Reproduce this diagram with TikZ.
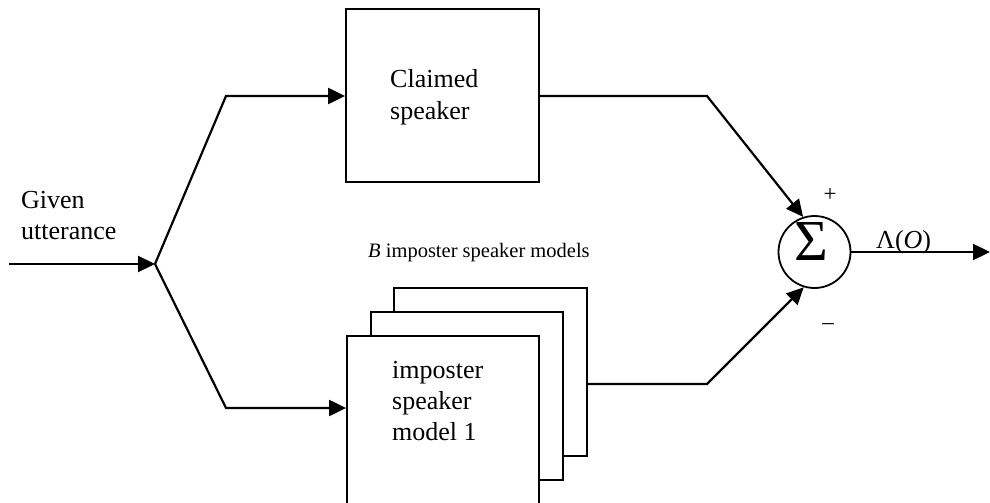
\documentclass[tikz,border=0pt]{standalone}
\usepackage{fontspec}
\setmainfont{Liberation Serif}
\usetikzlibrary{arrows.meta}
\begin{document}
\begin{tikzpicture}[x=1pt,y=-1pt,
  box/.style={draw,line width=1.8pt,fill=white,inner sep=0pt},
  wire/.style={line width=2.2pt},
  arr/.style={wire,-{Triangle[length=17pt,width=16pt]}},
  lbl/.style={inner sep=0pt,anchor=base west,font=\fontsize{26}{30}\selectfont},
  small/.style={inner sep=0pt,font=\fontsize{20.5}{24}\selectfont}]
\clip (0,0) rectangle (990,503);
\useasboundingbox (0,0) rectangle (990,503);
% boxes
\node[box,minimum width=193pt,minimum height=173pt] (claimed) at (442.5,95.5) {};
\node[box,minimum width=193pt,minimum height=168pt] (back) at (490.5,372) {};
\node[box,minimum width=192pt,minimum height=168pt] (mid) at (467,396) {};
\node[box,minimum width=192pt,minimum height=190pt] (front) at (443,431) {};
\node[draw,circle,line width=1.8pt,minimum size=72pt,inner sep=0pt] (sum) at (814.5,252) {};
% texts
\node[lbl] (t1) at (390,88) {Claimed};
\node[lbl] (t2) at (390,119) {speaker};
\node[lbl] (t3) at (392,378) {imposter};
\node[lbl] (t4) at (392,409) {speaker};
\node[lbl] (t5) at (392,440) {model 1};
\node[lbl] (g1) at (21,208) {Given};
\node[lbl] (g2) at (21,239) {utterance};
\node[small,anchor=base west] (bl) at (368,257) {\textit{B} imposter speaker models};
\node[inner sep=0pt,font=\fontsize{58}{60}\selectfont] (sig) at (811.5,242) {Σ};
\node[lbl] (lam) at (876,248) {Λ(\textit{O})};
\node[small,font=\fontsize{23}{26}\selectfont] (plus) at (830,195) {+};
\node[small,font=\fontsize{23}{26}\selectfont] (minus) at (828,327) {–};
% connectors
\coordinate (in) at (9,264);
\coordinate (split) at (155,264);
\coordinate (kup) at (226,96);
\coordinate (kdn) at (226,408);
\coordinate (kc) at (707,96);
\coordinate (kb) at (707,384);
\coordinate (out) at (990,252);
\draw[arr] (in) -- (split);
\draw[arr] (split) -- (kup) -- (claimed.west |- kup);
\draw[arr] (split) -- (kdn) -- (front.west |- kdn);
\draw[arr] (claimed.east |- kc) -- (kc) -- (sum.108);
\draw[arr] (back.east |- kb) -- (kb) -- (sum.-107);
\draw[arr] (sum.east) -- (out);
\end{tikzpicture}
\end{document}
